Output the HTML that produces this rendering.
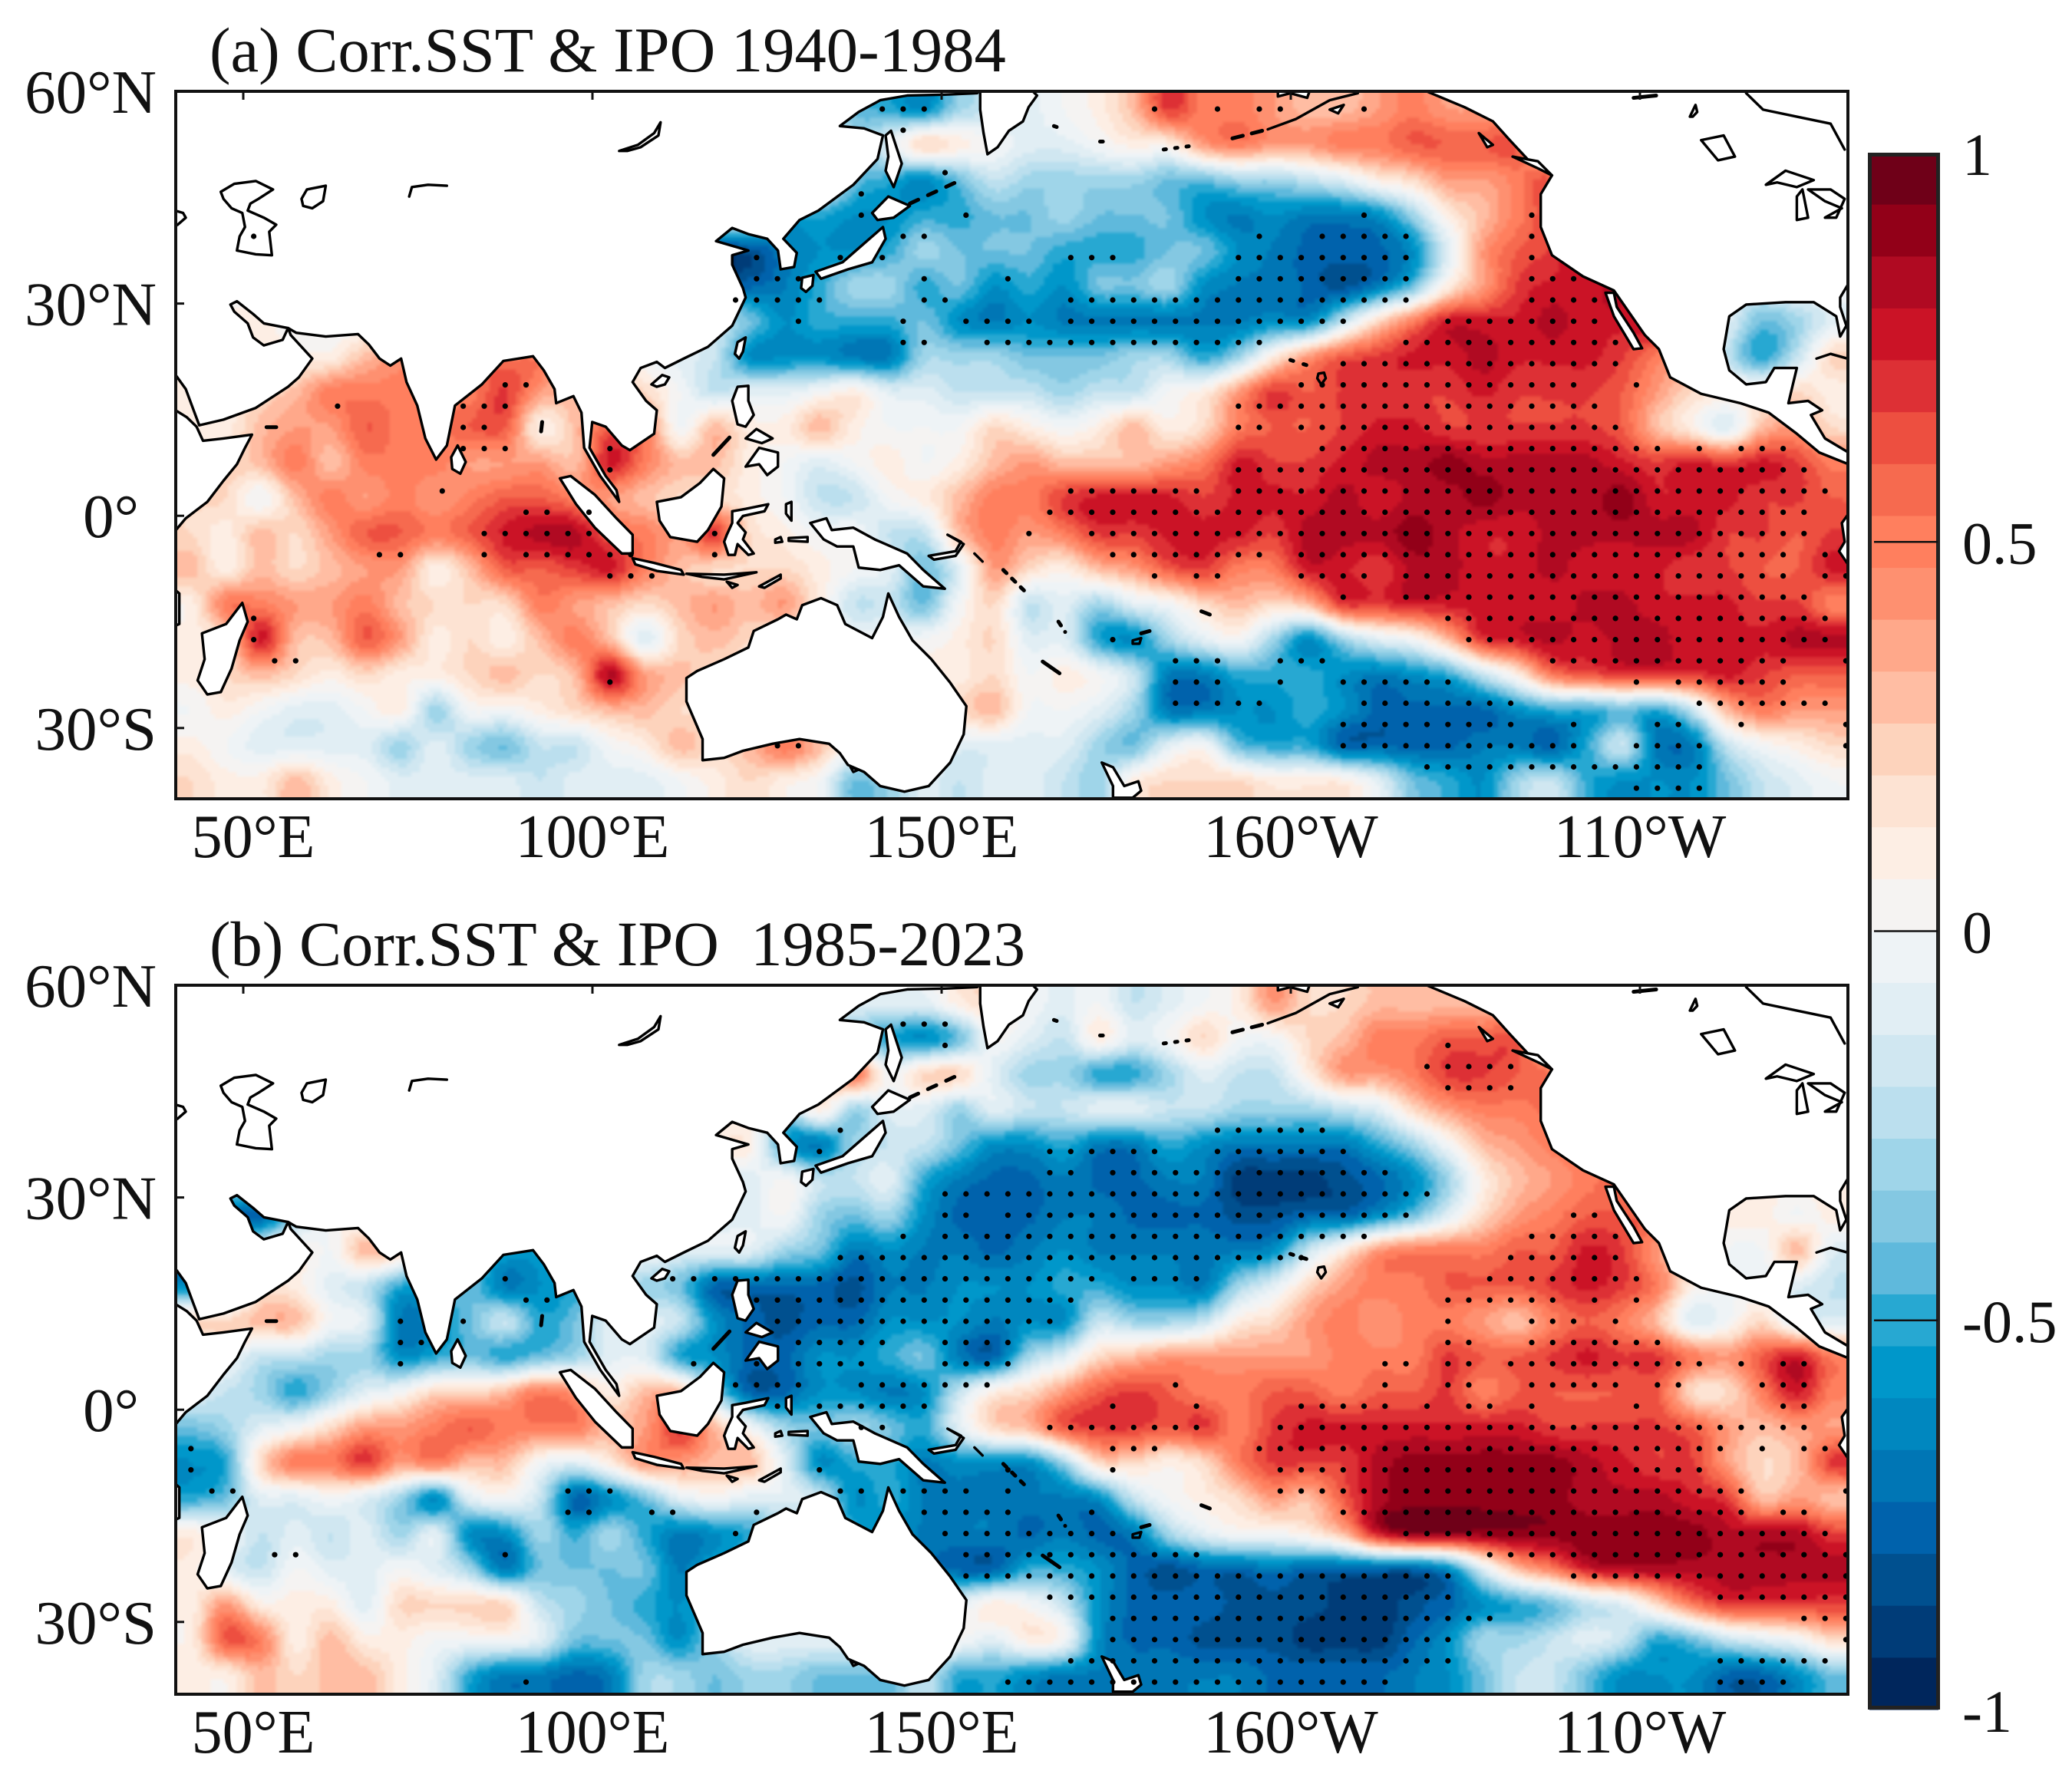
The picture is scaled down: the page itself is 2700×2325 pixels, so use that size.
<!DOCTYPE html>
<html lang="en">
<head>
<meta charset="utf-8">
<title>Corr.SST and IPO maps</title>
<style>
html,body{margin:0;padding:0;background:#fff;}
svg{display:block;}
text{font-family:"Liberation Serif","Times New Roman",serif;fill:#111;white-space:pre;}
.coast{fill:#fff;stroke:#000;stroke-width:3.4;stroke-linejoin:round;vector-effect:non-scaling-stroke;}
.line{fill:none;stroke:#000;stroke-width:3.4;stroke-linejoin:round;stroke-linecap:round;vector-effect:non-scaling-stroke;}
.thick{fill:none;stroke:#000;stroke-width:5;stroke-linecap:round;vector-effect:non-scaling-stroke;}
</style>
</head>
<body>
<svg id="figure" xmlns="http://www.w3.org/2000/svg" width="2700" height="2325" viewBox="0 0 2700 2325">
<defs>
<filter id="soften" x="-2%" y="-2%" width="104%" height="104%" color-interpolation-filters="sRGB"><feGaussianBlur stdDeviation="1.8"/></filter>
<clipPath id="clip-a"><rect x="229" y="119" width="2179" height="922"/></clipPath>
<clipPath id="clip-b"><rect x="229" y="1284" width="2179" height="924"/></clipPath>
<g id="land">
<g transform="translate(200,100) scale(0.7015,0.6122)">
<path class="coast" d="M38,708 L62,725 80,745 92,775 130,770 183,762 170,790 155,825 130,860 100,905 60,940 38,970 Z"/>
<path class="coast" d="M38,28 L38,630 60,665 85,742 130,730 190,705 250,660 270,640 295,600 255,550 250,535 240,560 205,572 185,555 175,525 150,500 143,485 155,478 185,505 205,525 250,535 265,545 320,553 380,548 400,570 420,600 440,615 460,600 470,650 490,700 505,770 525,815 545,785 560,700 610,655 650,605 705,595 725,625 745,665 748,695 780,680 795,715 800,790 830,850 865,905 860,880 840,850 810,790 815,735 840,745 870,785 885,795 930,760 935,710 915,690 890,650 905,620 935,607 950,620 985,600 1030,575 1075,530 1100,470 1095,450 1075,400 1075,380 1105,370 1045,350 1075,322 1105,335 1140,345 1160,370 1165,410 1190,405 1195,375 1170,345 1200,305 1235,285 1300,230 1345,175 1355,125 1320,110 1275,105 1310,75 1350,50 1400,40 1470,38 1530,35 1535,28 Z"/>
<path class="coast" d="M130,260 L125,245 150,228 190,222 222,240 195,260 180,270 175,285 205,300 228,315 215,330 220,380 190,378 155,370 160,340 170,320 165,290 145,280 Z"/>
<path class="coast" d="M275,260 L285,240 320,232 315,265 295,280 278,275 Z"/>
<path class="line" d="M475,255 L480,235 510,230 545,232"/>
<path class="coast" d="M865,158 L900,145 930,120 942,97 938,125 905,150 880,158 Z"/>
<path class="coast" d="M40,285 L55,290 60,300 45,315 40,318 Z"/>
<path class="coast" d="M925,655 L945,635 958,640 950,655 935,660 Z"/>
<path class="coast" d="M1080,590 L1085,565 1100,555 1095,585 1088,600 Z"/>
<path class="coast" d="M553,810 L565,785 580,820 570,845 555,835 Z"/>
<path class="coast" d="M1360,125 L1370,115 1390,185 1375,235 1360,200 1365,170 Z"/>
<path class="coast" d="M1335,290 L1365,255 1405,275 1375,300 1345,305 Z"/>
<path class="coast" d="M1230,415 L1280,395 1330,345 1355,320 1360,345 1335,395 1290,410 1240,430 Z"/>
<path class="coast" d="M1205,428 L1226,422 1224,445 1212,458 1203,450 Z"/>
<path class="thick" d="M722,735 L720,755"/>
<path class="thick" d="M210,746 L228,746"/>
<path class="coast" d="M755,855 L775,850 820,890 860,940 890,975 890,1015 870,1015 820,960 785,910 Z"/>
<path class="coast" d="M890,1025 L930,1035 980,1050 985,1060 935,1052 895,1038 Z"/>
<path class="coast" d="M990,1058 L1060,1060 1120,1055 1060,1070 1020,1065 Z"/>
<path class="coast" d="M1125,1085 L1165,1060 1165,1068 1135,1088 Z"/>
<path class="coast" d="M1065,1075 L1085,1082 1075,1088 Z"/>
<path class="coast" d="M935,905 L980,895 1015,865 1040,835 1060,855 1055,915 1050,925 1030,965 1010,990 960,980 940,945 Z"/>
<path class="coast" d="M1065,975 L1075,950 1075,925 1100,920 1142,910 1135,925 1095,935 1085,950 1100,970 1095,985 1115,1015 1105,1018 1085,995 1080,1018 1068,1018 1060,990 Z"/>
<path class="coast" d="M1075,690 L1085,660 1105,658 1105,690 1115,720 1100,745 1085,740 Z"/>
<path class="coast" d="M1100,830 L1125,790 1160,800 1160,830 1140,848 1125,825 Z"/>
<path class="coast" d="M1100,770 L1120,750 1150,770 1130,780 Z"/>
<path class="thick" d="M1040,805 L1070,768"/>
<path class="coast" d="M1175,910 L1185,905 1185,945 1175,930 Z"/>
<path class="coast" d="M1155,985 L1165,980 1168,990 1155,992 Z"/>
<path class="coast" d="M1180,982 L1215,980 1215,990 1180,988 Z"/>
<path class="coast" d="M1220,950 L1250,940 1260,965 1300,960 1340,985 1400,1015 1430,1050 1470,1090 1430,1085 1385,1040 1350,1050 1310,1045 1300,1000 1270,1000 1245,985 Z"/>
<path class="coast" d="M1440,1020 L1490,1010 1500,990 1475,975 1505,995 1490,1020 1450,1028 Z"/>
<path class="coast" d="M990,1280 L1010,1265 1060,1240 1105,1215 1115,1180 1160,1155 1175,1145 1195,1155 1205,1125 1240,1110 1270,1125 1285,1165 1335,1195 1355,1150 1365,1100 1385,1150 1410,1200 1445,1240 1480,1290 1510,1340 1505,1400 1480,1460 1440,1510 1395,1522 1350,1510 1320,1480 1290,1465 1275,1440 1255,1420 1200,1410 1150,1420 1095,1435 1060,1450 1020,1455 1020,1410 1005,1370 990,1330 Z"/>
<path class="coast" d="M1295,1470 L1310,1475 1300,1480 Z"/>
<path class="coast" d="M165,1120 L175,1160 160,1200 145,1260 125,1310 100,1315 82,1285 95,1240 90,1185 135,1165 Z"/>
<path class="coast" d="M38,1090 L48,1100 48,1165 38,1170 Z"/>
<path class="thick" stroke-dasharray="12 14" d="M1405,270 L1490,225"/>
<path class="line" d="M1525,1015 L1540,1032"/>
</g>
<g transform="translate(1300,100) scale(0.7334,0.6122)">
<path class="coast" d="M-31,28 L-31,70 -25,120 -18,165 0,150 20,115 45,95 55,65 70,40 60,28 Z"/>
<path class="coast" d="M760,30 L830,65 880,95 910,135 945,180 985,210 965,250 965,320 985,380 1040,425 1095,455 1150,550 1175,580 1195,640 1250,675 1320,695 1370,715 1420,760 1460,800 1512,825 1512,800 1470,770 1445,720 1465,710 1440,690 1405,695 1420,620 1380,620 1365,650 1330,655 1300,625 1290,580 1300,510 1330,485 1400,480 1450,480 1490,510 1497,553 1508,530 1497,490 1497,470 1512,440 1512,28 760,28 Z"/>
<path class="coast" d="M1080,460 L1095,510 1130,580 1145,578 1130,545 1100,490 1095,460 Z"/>
<path class="coast" d="M1365,230 L1400,200 1450,220 1420,235 1385,225 Z"/>
<path class="coast" d="M1420,255 L1430,240 1440,300 1420,305 Z"/>
<path class="coast" d="M1440,240 L1480,240 1505,260 1490,300 1470,300 1500,280 1470,265 Z"/>
<path class="coast" d="M1250,135 L1290,125 1310,170 1280,178 Z"/>
<path class="coast" d="M1230,85 L1240,60 1243,75 1235,85 Z"/>
<path class="line" d="M1330,35 L1360,70 1420,85 1480,100 1505,155"/>
<path class="thick" d="M1130,45 L1170,40"/>
<path class="line" d="M1455,600 L1480,590 1510,600"/>
<path class="coast" d="M1512,930 L1500,950 1505,990 1495,1010 1512,1040 Z"/>
<path class="coast" d="M498,28 L498,42 520,35 550,45 555,28 Z"/>
<path class="line" d="M640,35 L590,50 530,90 480,112"/>
<path class="thick" stroke-dasharray="14 12" d="M470,115 L405,135"/>
<path class="coast" d="M590,70 L615,60 605,78 Z"/>
<path class="coast" d="M855,120 L880,145 870,150 Z"/>
<path class="coast" d="M915,170 L960,180 985,210 960,195 Z"/>
<path class="thick" stroke-dasharray="3 12" d="M295,155 L340,148"/>
<path class="thick" d="M100,105 L105,107"/>
<path class="thick" d="M182,138 L187,138"/>
<path class="thick" stroke-dasharray="4 14" d="M520,603 L565,620"/>
<path class="line" d="M570,632 L580,630 583,642 575,655 568,642 Z"/>
<path class="coast" d="M185,1460 L205,1470 225,1510 250,1500 255,1520 240,1535 205,1535 205,1510 Z"/>
<path class="thick" d="M80,1245 L110,1270"/>
<path class="line" d="M240,1200 L255,1195 252,1207 240,1207 Z"/>
<path class="thick" d="M255,1185 L270,1180"/>
<path class="thick" stroke-dasharray="6 10" d="M108,1160 L120,1182"/>
<path class="thick" stroke-dasharray="6 10" d="M10,1050 L48,1095"/>
<path class="thick" d="M362,1138 L377,1145"/>
</g>
</g>
</defs>
<rect x="0" y="0" width="2700" height="2325" fill="#fff"/>
<text x="273" y="93" font-size="82.6">(a) Corr.SST &amp; IPO 1940-1984</text>
<text x="273" y="1258" font-size="82.6">(b) Corr.SST &amp; IPO  1985-2023</text>
<g id="panel-a"></g>
<g id="panel-b"></g>
<g id="colorbar"></g>
</svg>
<script>
// Grid categories
const gridLons = [42.5,47.5,52.5,57.5,62.5,67.5,72.5,77.5,82.5,87.5,92.5,97.5,102.5,107.5,112.5,117.5,122.5,127.5,132.5,137.5,142.5,147.5,152.5,157.5,162.5,167.5,172.5,177.5,182.5,187.5,192.5,197.5,202.5,207.5,212.5,217.5,222.5,227.5,232.5,237.5,242.5,247.5,252.5,257.5,262.5,267.5,272.5,277.5];
const gridLats = [57.5,52.5,47.5,42.5,37.5,32.5,27.5,22.5,17.5,12.5,7.5,2.5,-2.5,-7.5,-12.5,-17.5,-22.5,-27.5,-32.5,-37.5];

// Correlation x10, panel (a) 1940-1984
const corrA = [
[0,0,0,0,0,0,0,0,0,0,0,0,0,0,0,0,0,0,0,-4,-5,-6,-3,-2,-1,0,1,3,7,5,5,4,3,3,4,5,4,4,4,0,0,0,0,0,0,0,0,0],
[0,0,0,0,0,0,0,0,0,0,0,0,0,0,0,0,0,0,0,-3,-1,2,1,0,-1,-1,0,1,1,4,5,4,4,5,5,6,6,6,6,0,0,0,0,0,0,0,0,0],
[0,0,0,0,0,0,0,0,0,0,0,0,0,0,0,0,0,0,0,-4,-5,-6,-4,-2,-3,-3,-3,-3,-4,-4,-3,-3,-2,-1,1,2,4,4,5,6,0,0,0,0,0,0,0,0],
[0,0,0,0,0,0,0,0,0,0,0,0,0,0,0,0,0,-5,-5,-6,-6,-5,-5,-4,-4,-3,-4,-4,-4,-6,-7,-6,-7,-7,-6,-3,1,3,5,6,0,0,0,0,0,0,0,0],
[0,0,0,0,0,0,0,0,0,0,0,0,0,0,0,-9,-9,-7,-6,-6,-5,-3,-4,-4,-4,-5,-5,-5,-4,-4,-6,-7,-8,-8,-8,-6,-1,4,6,7,8,0,0,0,0,0,0,0],
[0,0,0,0,0,0,0,0,0,0,0,0,0,0,0,-8,-8,-7,-5,-3,-3,-5,-4,-6,-5,-6,-4,-4,-3,-6,-7,-7,-8,-9,-7,-4,1,4,7,8,8,8,0,0,-1,-1,0,0],
[1,1,1,0,0,0,0,0,0,0,0,0,0,0,0,-2,-4,-6,-5,-5,-5,-4,-6,-7,-6,-7,-7,-7,-7,-7,-7,-6,-6,-2,2,5,8,8,8,9,8,8,7,0,-1,-4,-3,-1],
[1,1,1,1,1,3,4,4,5,5,5,2,2,0,-1,-2,-6,-6,-6,-7,-7,-3,-3,-3,-4,-4,-4,-3,-3,-5,-3,1,4,6,7,8,8,9,8,8,8,7,5,3,-2,-5,-2,2],
[1,1,2,3,5,5,5,5,5,7,4,3,3,2,0,-2,-1,-1,0,1,-1,-1,-2,-2,-2,-3,-2,-2,0,1,4,7,6,7,7,7,7,8,7,7,7,6,4,2,1,1,2,1],
[1,1,3,4,4,6,5,5,6,6,1,3,6,5,0,3,1,1,3,1,0,0,0,2,1,0,1,3,1,2,5,6,6,7,8,8,7,7,7,7,7,6,3,1,-1,3,4,2],
[1,2,3,5,3,5,5,5,4,4,4,3,8,5,3,3,1,0,-1,0,1,0,1,3,4,3,3,3,4,5,8,7,7,8,9,9,10,9,9,9,9,8,7,8,7,8,7,5],
[2,2,0,3,5,4,5,4,5,6,6,5,4,3,2,2,1,0,-2,-2,0,1,3,5,5,7,8,8,8,7,8,8,8,9,8,9,9,10,9,9,9,10,8,8,8,7,7,6],
[2,1,3,2,4,6,6,5,6,8,9,9,6,5,4,7,2,1,0,0,-2,-2,3,5,4,5,7,7,8,8,8,7,9,9,9,10,9,8,8,9,9,9,9,9,7,7,6,7],
[3,1,3,2,3,4,4,1,3,6,6,7,8,5,3,2,2,2,1,0,-1,-4,-1,4,2,1,3,4,6,7,5,5,8,8,7,9,9,8,8,9,8,8,8,7,7,6,6,8],
[1,5,5,4,4,5,3,2,2,2,5,4,3,2,3,4,3,4,1,-2,-2,-4,0,2,-2,-1,-3,-1,0,2,3,2,3,7,7,8,8,8,8,8,9,9,8,8,8,7,7,5],
[1,2,8,3,3,6,4,1,2,1,3,5,3,-1,2,3,2,1,0,0,0,0,1,2,-1,-1,-5,-6,-3,-1,0,-3,-6,-3,-1,0,3,7,8,9,8,9,9,8,8,8,9,9],
[1,2,3,2,1,2,1,1,2,3,2,3,9,4,3,2,1,1,1,1,1,1,1,2,0,1,0,-2,-7,-7,-5,-5,-5,-6,-7,-6,-5,-2,1,5,6,7,7,7,8,7,6,6],
[0,1,0,-1,-1,0,1,-3,0,0,1,2,3,3,2,2,1,1,1,1,1,1,2,3,0,0,-1,-3,-7,-7,-6,-6,-5,-6,-8,-8,-8,-8,-6,-5,-5,-4,-5,-2,3,5,4,4],
[1,0,-1,-1,-1,-1,-3,-1,-3,-4,-2,-2,0,1,3,2,3,5,3,0,0,0,-1,-1,-1,-1,-3,-4,-1,0,-4,-5,-5,-8,-8,-8,-8,-7,-7,-8,-5,-2,-7,-7,-2,0,1,2],
[2,1,1,3,1,0,-1,-1,-1,-1,-2,-1,-1,-1,0,1,2,1,0,-4,-3,-1,-2,-1,-1,-2,-3,1,2,2,2,1,1,1,-1,-4,-5,-6,-3,-2,-5,-6,-6,-6,-4,-2,-1,0]
];

// Correlation x10, panel (b) 1985-2023
const corrB = [
[0,0,0,0,0,0,0,0,0,0,0,0,0,0,0,0,0,0,0,-1,-1,-1,1,2,0,-1,0,-2,-1,0,1,4,2,2,3,3,3,3,3,0,0,0,0,0,0,0,0,0],
[0,0,0,0,0,0,0,0,0,0,0,0,0,0,0,0,0,0,0,-3,-5,-6,-4,0,-1,-2,1,-1,0,2,0,0,2,3,5,5,6,6,6,0,0,0,0,0,0,0,0,0],
[0,0,0,0,0,0,0,0,0,0,0,0,0,0,0,0,0,0,1,5,0,2,2,-1,-3,-3,-5,-5,-3,-1,-2,-2,1,4,4,5,7,7,6,5,0,0,0,0,0,0,0,0],
[0,0,0,0,0,0,0,0,0,0,0,0,0,0,0,0,0,-3,1,-3,-1,-1,-3,-1,-2,-2,-1,-1,-2,-2,-3,-3,-3,-2,-1,2,4,5,5,5,0,0,0,0,0,0,0,0],
[0,0,0,0,0,0,0,0,0,0,0,0,0,0,1,1,1,-5,-7,-3,-2,-2,-4,-6,-6,-5,-7,-7,-5,-6,-7,-7,-7,-7,-5,-3,0,3,4,5,5,0,0,0,0,0,0,0],
[0,0,0,0,0,0,0,0,0,0,0,0,0,0,0,-1,-1,0,-2,-2,-1,-5,-7,-8,-8,-7,-8,-8,-7,-7,-10,-10,-10,-9,-8,-6,-3,1,3,4,5,5,0,0,1,1,1,1],
[-8,-8,-8,-3,0,0,0,0,0,0,0,0,0,0,0,-1,-1,0,-3,-4,-3,-6,-8,-8,-8,-7,-7,-8,-8,-8,-9,-9,-8,-8,-6,-4,-1,2,4,5,6,6,5,0,1,1,0,1],
[-7,-3,0,1,0,3,2,-2,-3,-5,-5,-3,0,0,-1,-1,-1,-3,-4,-7,-6,-7,-7,-8,-7,-6,-7,-7,-7,-7,-7,-6,-2,1,4,5,5,5,6,6,8,7,4,2,0,0,3,-1],
[-6,-5,1,1,-1,-2,-5,-5,-4,-7,-6,-5,-3,-3,-4,-8,-8,-8,-8,-9,-7,-7,-6,-6,-6,-5,-5,-6,-6,-7,-3,-1,2,4,5,5,6,6,6,7,8,7,5,1,0,0,-1,-2],
[2,2,3,3,0,-1,-7,-6,-4,-2,-5,-4,-1,-1,-2,-6,-8,-9,-8,-8,-6,-6,-6,-7,-6,-6,-2,-3,-3,-2,1,2,4,5,4,5,5,4,3,5,6,5,3,-1,0,2,-1,-1],
[-1,0,-2,-2,-3,-3,-6,-5,-4,-5,-4,-3,-1,-1,-5,-6,-8,-8,-6,-6,-5,-4,-7,-8,-3,-1,2,3,4,4,4,4,4,5,5,5,7,6,6,7,8,7,7,5,4,6,8,5],
[-1,-2,-3,-5,-3,-1,0,2,2,3,5,4,1,3,3,-3,-8,-8,-6,-6,-7,-6,-2,1,2,4,6,7,6,5,5,6,6,5,6,6,7,5,6,6,6,6,6,2,2,5,8,5],
[-4,-3,-1,0,2,4,4,5,6,5,5,5,3,4,7,3,0,-3,-4,-3,-4,-5,-1,2,3,6,7,7,6,7,5,7,8,8,8,8,8,8,8,7,7,7,7,6,4,3,4,4],
[-6,-5,2,5,5,7,4,5,3,3,0,-1,1,4,4,3,3,-1,-6,-5,-5,-7,-6,-6,-6,-3,2,2,1,2,5,7,7,7,9,10,10,10,10,10,9,8,7,7,4,2,3,7],
[-5,-4,-1,-1,0,-1,-3,-6,-1,0,-2,-8,-6,-4,-1,0,-1,-1,-2,-6,-5,-7,-7,-7,-7,-7,-6,-2,0,1,2,4,3,6,9,10,10,10,10,10,9,9,9,8,7,3,4,3],
[1,0,-2,-1,-2,-1,-3,-1,-6,-6,-3,-5,-3,-5,-7,-6,-5,-4,-4,-5,-6,-7,-7,-7,-8,-7,-8,-7,-3,-1,0,0,1,3,8,10,10,10,10,10,10,10,10,10,9,9,9,7],
[1,-1,-2,0,-1,-1,0,-1,-3,-7,-4,-4,-4,-4,-7,-5,-4,-4,-4,-5,-6,-7,-8,-8,-5,-5,-6,-8,-9,-8,-8,-7,-8,-8,-8,-8,-6,-1,3,5,8,9,9,9,9,9,9,9],
[1,4,1,1,1,-1,2,2,2,2,-2,-3,-4,-5,-6,-4,-3,-3,-3,-3,-3,-2,-1,1,0,-2,-6,-8,-8,-8,-9,-9,-9,-10,-10,-9,-8,-6,-5,-4,-2,-1,2,5,7,7,7,7],
[1,6,5,1,3,1,1,0,0,0,-1,-4,-4,-4,-6,-3,-1,-1,-1,-1,-1,-1,0,-1,1,0,-6,-8,-8,-9,-9,-9,-10,-10,-10,-8,-6,-3,-3,-2,-1,-2,-5,-4,-2,-1,0,2],
[1,1,3,2,3,3,1,-1,-5,-7,-7,-8,-7,-3,-3,-4,-3,-3,-4,-4,-4,-2,-5,-5,-6,-7,-7,-7,-7,-7,-7,-8,-8,-8,-8,-7,-6,-4,-2,-2,-4,-6,-6,-6,-8,-8,-6,-4]
];

// Significant points: latitude rows, with runs of 3-degree longitude indices (lon = 51.5 + 3k)
const sigLatsA = [57.5,54.5,48.5,45.5,42.5,39.5,36.5,33.5,30.5,27.5,24.5,21.5,18.5,15.5,12.5,9.5,6.5,3.5,0.5,-2.5,-5.5,-8.5,-11.5,-14.5,-17.5,-20.5,-23.5,-26.5,-29.5,-32.5,-35.5,-38.5];
const sigRunsA = [
[[30,32],[43,43],[46,46],[48,49],[53,53]],
[[31,31]],
[[33,33]],
[[29,29]],
[[29,29],[34,34],[53,53],[61,61]],
[[0,0],[31,32],[48,48],[51,55],[61,61]],
[[24,24],[28,28],[30,30],[39,41],[47,55],[61,61]],
[[24,26],[32,32],[36,36],[47,55],[61,63]],
[[23,27],[32,33],[39,55],[61,64]],
[[26,26],[31,31],[34,37],[39,52],[57,64]],
[[31,32],[35,48],[55,65]],
[[52,65]],
[[12,13],[50,63],[66,66]],
[[4,4],[10,12],[47,64]],
[[10,11],[47,48],[50,65]],
[[10,12],[17,17],[51,67],[69,69],[71,73]],
[[17,17],[47,74]],
[[9,9],[39,45],[47,75]],
[[13,14],[16,16],[38,74]],
[[11,16],[22,22],[37,37],[40,74]],
[[6,7],[11,11],[13,18],[22,22],[41,48],[50,73],[75,75]],
[[17,19],[43,43],[45,46],[50,53],[55,73],[75,76]],
[[52,52],[55,74]],
[[0,0],[57,75]],
[[0,0],[41,41],[58,75]],
[[1,2],[44,46],[49,51],[62,73],[76,76]],
[[17,17],[44,46],[49,49],[52,57],[66,66],[68,73]],
[[44,48],[53,60],[69,75]],
[[52,60],[63,63],[67,68],[71,71],[76,76]],
[[25,26],[52,63],[66,69],[76,76]],
[[56,69]],
[[66,69]]
];
const sigLatsB = [54.5,51.5,48.5,45.5,39.5,36.5,33.5,30.5,27.5,24.5,21.5,18.5,15.5,12.5,9.5,6.5,3.5,0.5,-2.5,-5.5,-8.5,-11.5,-14.5,-17.5,-20.5,-23.5,-26.5,-29.5,-32.5,-35.5,-38.5];
const sigRunsB = [
[[31,33]],
[[33,33],[57,57]],
[[56,60]],
[[57,60]],
[[28,28],[46,51]],
[[27,27],[38,43],[46,52]],
[[38,39],[41,54]],
[[33,56]],
[[33,34],[36,55],[63,64]],
[[31,31],[33,53],[61,65]],
[[28,50],[60,65]],
[[12,12],[20,40],[42,45],[59,66]],
[[13,14],[24,39],[57,62],[64,64],[66,66]],
[[7,7],[10,10],[25,38],[57,57],[61,63],[65,65]],
[[7,8],[26,30],[33,36],[57,58],[61,67]],
[[7,7],[21,21],[24,24],[26,29],[33,36],[54,55],[57,58],[60,69],[71,71],[73,74]],
[[23,26],[29,35],[44,44],[54,54],[57,58],[61,65],[67,68],[72,74]],
[[25,25],[27,32],[41,41],[45,45],[50,54],[56,56],[58,59],[61,61],[66,66],[73,74]],
[[29,30],[38,45],[49,74]],
[[-3,-3],[41,43],[48,70],[72,72],[74,75]],
[[-3,-3],[27,27],[36,36],[41,41],[49,69]],
[[-2,-1],[15,17],[28,29],[31,34],[36,36],[49,71],[76,76]],
[[15,16],[19,20],[24,24],[32,36],[40,40],[52,71],[73,74]],
[[23,23],[33,41],[55,75]],
[[1,2],[12,12],[34,45],[59,76]],
[[34,57],[63,76]],
[[38,57],[70,76]],
[[41,59],[74,76]],
[[41,57],[76,76]],
[[39,57],[70,75]],
[[13,13],[36,54],[70,73]]
];

// Colour levels, top (+1) to bottom (-1)
const colorLevels = ["#6f0018","#920018","#b00a22","#cb1326","#dd3035","#ed4f40","#f66a4f","#ff7f5e","#fe9070","#ffa88a","#ffbda3","#fdd3bc","#fde3d3","#fdeee4","#f5f3f2","#eef3f6","#e1eef4","#d0e7f1","#bbdfee","#9fd5e9","#84c8e2","#5fb9dc","#27a8d2","#0097ca","#0087bf","#0076b5","#0062ac","#00508f","#003c78","#00265c"];

// Tick labels
const lonTicks = [50,100,150,200,250];
const lonTickLabels = ["50°E","100°E","150°E","160°W","110°W"];
const latTicks = [60,30,0,-30];
const latTickLabels = ["60°N","30°N","0°","30°S"];
const cbarTicks = [1,0.5,0,-0.5,-1];
const cbarTickLabels = ["1","0.5","0","-0.5","-1"];

const NS = "http://www.w3.org/2000/svg";
const FRAME_L = 229, FRAME_R = 2408;
const LON_PX = 9.1, LAT_PX = 9.22;
function xOf(lon){ return 317 + (lon - 50) * LON_PX; }
function yOf(lat, top){ return top + (60 - lat) * LAT_PX; }
function colorOf(v){
  const idx = Math.floor((1 - v) / 2 * colorLevels.length);
  return colorLevels[Math.max(0, Math.min(colorLevels.length - 1, idx))];
}
function cbY(v){ return 199 + (1 - v) / 2 * 2029; }
function mk(tag, parent, attrs){
  const e = document.createElementNS(NS, tag);
  for (const k in attrs) e.setAttribute(k, attrs[k]);
  parent.appendChild(e);
  return e;
}
function cr(a, b, c, d, t){
  return 0.5 * (2*b + (c-a)*t + (2*a-5*b+4*c-d)*t*t + (3*b-a-3*c+d)*t*t*t);
}
// Strong tenths were read coarsely; the top of the scale is eased so they land on the bar's levels.
function ease(v){
  const a = Math.abs(v);
  return a <= 0.6 ? v : Math.sign(v) * (0.6 + (a - 0.6) * 0.75);
}
function at(grid, j, i){
  const r = grid[Math.max(0, Math.min(grid.length - 1, j))];
  const v = r[Math.max(0, Math.min(r.length - 1, i))];
  return ease((v === undefined ? 0 : v) / 10);
}
function sample(grid, lon, lat){
  const fx = (lon - gridLons[0]) / (gridLons[1] - gridLons[0]);
  const fy = (lat - gridLats[0]) / (gridLats[1] - gridLats[0]);
  const i = Math.floor(fx), j = Math.floor(fy), tx = fx - i, ty = fy - j;
  const rows = [];
  for (let m = -1; m <= 2; m++) {
    rows.push(cr(at(grid,j+m,i-1), at(grid,j+m,i), at(grid,j+m,i+1), at(grid,j+m,i+2), tx));
  }
  return cr(rows[0], rows[1], rows[2], rows[3], ty);
}

function drawPanel(id, top, height, grid, sigLats, sigRuns, clipId){
  const root = document.getElementById(id);
  const clip = mk("g", root, {"clip-path":"url(#"+clipId+")"});
  
  
  const heat = mk("g", clip, {filter:"url(#soften)"});
  
  
  const stepX = LON_PX * 5 / 8, stepY = LAT_PX * 5 / 8;
  for (let py = top - 6; py < top + height + 6; py += stepY) {
    const lat = 60 - (py + stepY / 2 - top) / LAT_PX;
    let startX = FRAME_L - 6, cur = null;
    for (let px = FRAME_L - 6; px <= FRAME_R + 6 + stepX; px += stepX) {
      const lon = 50 + (px + stepX / 2 - 317) / LON_PX;
      const col = px > FRAME_R + 6 ? null : colorOf(sample(grid, lon, lat));
      if (col !== cur) {
        if (cur !== null) {
          const cell = mk("rect", heat, {x:startX.toFixed(1), y:py.toFixed(1), width:(px-startX+0.6).toFixed(1), height:(stepY+0.6).toFixed(1), fill:cur});
          
          
        }
        startX = px; cur = col;
      }
    }
  }
  const land = mk("use", clip, {href:"#land", x:0, y:top - 119});
  
  
  const dots = mk("g", clip, {fill:"#000"});
  
  
  sigLats.forEach(function(lat, r){
    sigRuns[r].forEach(function(run){
      for (let k = run[0]; k <= run[1]; k++) {
        const dot = mk("circle", dots, {cx:xOf(51.5 + 3*k).toFixed(1), cy:yOf(lat, top).toFixed(1), r:3.6});
        
        
      }
    });
  });
  const frame = mk("rect", root, {x:FRAME_L, y:top, width:FRAME_R-FRAME_L, height:height, fill:"none", stroke:"#111", "stroke-width":4});
  
  
  lonTicks.forEach(function(lon, i){
    const x = xOf(lon);
    const t = mk("line", root, {x1:x, x2:x, y1:top, y2:top+11, stroke:"#111", "stroke-width":3});
    
    
    const nudge = i === 0 ? 13 : 0;
    const lab = mk("text", root, {x:x+nudge, y:top+height+76, "font-size":80, "text-anchor":"middle"});
    lab.textContent = lonTickLabels[i];
    
    
  });
  latTicks.forEach(function(lat, i){
    const y = yOf(lat, top);
    const t = mk("line", root, {x1:FRAME_L, x2:FRAME_L+11, y1:y, y2:y, stroke:"#111", "stroke-width":3});
    
    
    const lab = mk("text", root, {x:lat === 0 ? 181 : 204, y:y+28, "font-size":81, "text-anchor":"end"});
    lab.textContent = latTickLabels[i];
    
    
  });
}

function drawColorbar(){
  const root = document.getElementById("colorbar");
  colorLevels.forEach(function(c, i){
    const v = 1 - i * 2 / colorLevels.length;
    const y0 = cbY(v), y1 = cbY(v - 2 / colorLevels.length);
    const seg = mk("rect", root, {x:2436, y:y0.toFixed(1), width:90, height:(y1-y0+0.5).toFixed(1), fill:c});
    
    
  });
  const frame = mk("rect", root, {x:2436.5, y:201.5, width:89, height:2024, fill:"none", stroke:"#222", "stroke-width":5});
  
  
  cbarTicks.forEach(function(v, i){
    const y = cbY(v);
    if (Math.abs(v) < 1) {
      const t = mk("line", root, {x1:2442, x2:2525, y1:y, y2:y, stroke:"#111", "stroke-width":2.5});
      
      
    }
    const lab = mk("text", root, {x:2557, y:y+(v === 1 ? 29 : v === -1 ? 29 : 28), "font-size":78});
    lab.textContent = cbarTickLabels[i];
    
    
  });
}

drawPanel("panel-a", 119, 922, corrA, sigLatsA, sigRunsA, "clip-a");
drawPanel("panel-b", 1284, 924, corrB, sigLatsB, sigRunsB, "clip-b");
drawColorbar();
</script>
</body>
</html>
